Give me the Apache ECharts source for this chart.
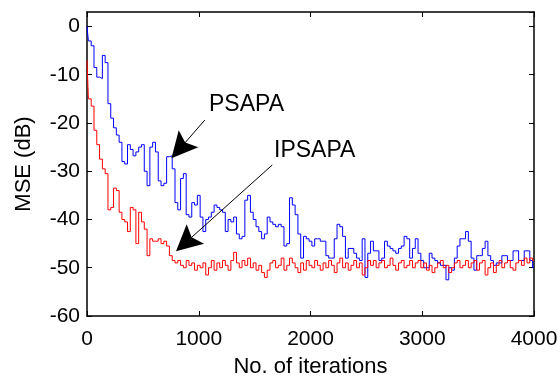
<!DOCTYPE html>
<html>
<head>
<meta charset="utf-8">
<script src="https://cdn.jsdelivr.net/npm/echarts@6/dist/echarts.min.js"></script>
<style>html,body{margin:0;padding:0;background:#fff}#c{width:560px;height:376px}</style>
</head>
<body>
<div id="c"></div>
<script>
var iterStep = 25;
var psapa = [0,-3,-4,-8.5,-10.5,-10.8,-6,-7.5,-16,-19,-21,-22.5,-24,-28,-28.5,-24.5,-25.5,-26.8,-26,-25,
-24.5,-30,-33,-25,-24,-26,-32,-33,-32.5,-27,-26.8,-29.5,-36.5,-38,-31.5,-30.5,-39,-39.5,-36.5,-37,
-35,-39.5,-42.5,-40,-39.5,-38.5,-37,-37.5,-38,-38.5,-42.5,-40,-40.5,-39.5,-43,-44,-43.5,-36,-35,-38.5,
-40,-41.5,-42.5,-44,-43,-39.5,-40.5,-41,-41.5,-41,-41.5,-45.5,-45,-35.5,-37,-39,-43,-48,-43.5,-44,
-44.5,-45.5,-44,-44,-44.5,-44.5,-47.5,-48,-48,-44,-41,-41.5,-43.5,-48,-46,-46,-47,-48,-48.5,-44,
-52,-47,-44.5,-46.5,-46.5,-48.5,-48,-44.5,-45.5,-46,-46.5,-47,-46,-45.5,-43.5,-44,-48,-46,-44,-47,
-48.5,-50,-50,-47,-48,-48.5,-49,-49.5,-49.5,-52.5,-50,-50.5,-48,-45.5,-44,-44,-42.5,-44.5,-48,-50.5,
-47.5,-47.5,-46,-44.5,-47.5,-48.5,-49.5,-49,-49,-47.5,-47.5,-48.5,-48.5,-46.5,-46.5,-48.5,-48.5,-46.5,-46.5,-48.5,
-50];
var ipsapa = [-7,-15,-16.5,-21.5,-24.5,-27.5,-29.5,-30.5,-38,-37.5,-33.5,-34,-38.5,-40,-40.5,-42.5,-37.5,-38,-45,-38.5,
-40.5,-42,-47.5,-44,-44.5,-44.5,-44,-45,-44.5,-45.5,-47.5,-48.5,-49,-48.5,-49.5,-50,-48.5,-49.5,-49,-50.5,
-49.5,-50,-49,-51.5,-50,-48.5,-50.5,-49,-50,-48.5,-49.5,-50.5,-48.5,-46.8,-49,-50,-48.5,-49.5,-48,-50,
-49,-50.5,-49.5,-51,-52,-50.5,-49,-48.5,-50,-49.5,-48,-50.5,-49.5,-48,-49,-50,-51,-49,-50.5,-48.5,
-49.5,-50,-48.5,-49.5,-50.5,-49,-50,-48.5,-49.5,-51,-49,-48,-50,-49,-50.5,-49.5,-48.5,-50,-49,-51.5,
-50,-48.5,-49.5,-48.5,-50,-49,-48.5,-50,-49.5,-48,-49.5,-50.5,-49,-48.5,-50,-49.5,-48.5,-50,-49,-48.5,
-50,-49,-50.5,-49.5,-51,-50,-49,-48.5,-50,-49.5,-51,-50,-49,-48.5,-50,-49.5,-48.5,-50,-49,-48.5,
-50.5,-49,-48.5,-51.5,-50,-49,-51,-49.5,-48.5,-50,-49,-48.5,-50,-50.5,-49,-48.5,-49.5,-48,-49,-48,
-48.5];
var xTicks = [0, 1000, 2000, 3000, 4000];
var yTicks = [-60, -50, -40, -30, -20, -10, 0];
var psapaArrow = [[1054, -19.4], [832, -25.3]];
var ipsapaArrow = [[1658, -28.7], [883, -44.8]];

function pairs(vals) {
  var out = [];
  for (var i = 0; i < vals.length; i++) out.push([i * iterStep, vals[i]]);
  return out;
}
var FONT = 'Liberation Sans';
var chart = echarts.init(document.getElementById('c'));
var tickStyle = {show: true, inside: true, length: 5, lineStyle: {color: '#000', width: 1}};
var lineStyle = {show: true, onZero: false, lineStyle: {color: '#000', width: 1.5}};
var arrowSym = 'path://M0,-13 L12,13 L0,8 L-12,13 Z';
function arrowLine(a) {
  return {
    silent: true, animation: false,
    symbol: ['none', arrowSym], symbolSize: 26,
    label: {show: false},
    lineStyle: {color: '#000', width: 1, type: 'solid'},
    emphasis: {disabled: true},
    data: [[{coord: a[0]}, {coord: a[1]}]]
  };
}
chart.setOption({
  animation: false,
  grid: {left: 87, right: 26, top: 12, bottom: 60, containLabel: false, outerBoundsMode: 'none'},
  xAxis: [{
    type: 'value', min: 0, max: 4000, interval: 1000, position: 'bottom',
    axisLine: lineStyle, axisTick: tickStyle, splitLine: {show: false},
    axisLabel: {color: '#000', fontSize: 21, fontFamily: FONT, margin: 13,
      formatter: function (v) { return xTicks.indexOf(v) >= 0 ? String(v) : ''; }},
    name: 'No. of iterations', nameLocation: 'middle', nameGap: 40,
    nameTextStyle: {color: '#000', fontSize: 22, fontFamily: FONT}
  }, {
    type: 'value', min: 0, max: 4000, interval: 1000, position: 'top',
    axisLine: lineStyle, axisTick: tickStyle, axisLabel: {show: false}, splitLine: {show: false}
  }],
  yAxis: [{
    type: 'value', min: -60, max: 3, interval: 10, position: 'left',
    axisLine: lineStyle, axisTick: tickStyle, splitLine: {show: false},
    axisLabel: {color: '#000', fontSize: 21, fontFamily: FONT, margin: 7, showMaxLabel: false,
      formatter: function (v) { return yTicks.indexOf(v) >= 0 ? String(v) : ''; }},
    name: 'MSE (dB)', nameLocation: 'middle', nameGap: 52,
    nameTextStyle: {color: '#000', fontSize: 22, fontFamily: FONT}
  }, {
    type: 'value', min: -60, max: 3, interval: 10, position: 'right',
    axisLine: lineStyle, axisTick: tickStyle, axisLabel: {show: false}, splitLine: {show: false}
  }],
  series: [{
    name: 'PSAPA', type: 'line', data: pairs(psapa), step: 'middle',
    symbol: 'none', lineStyle: {color: '#0000ff', width: 1}, itemStyle: {color: '#0000ff'},
    markLine: arrowLine(psapaArrow)
  }, {
    name: 'IPSAPA', type: 'line', data: pairs(ipsapa), step: 'middle',
    symbol: 'none', lineStyle: {color: '#ff0000', width: 1}, itemStyle: {color: '#ff0000'},
    markLine: arrowLine(ipsapaArrow)
  }],
  graphic: [
    {type: 'text', left: 209, top: 93, style: {text: 'PSAPA', fontSize: 23, fontFamily: FONT, fill: '#000'}},
    {type: 'text', left: 274, top: 139, style: {text: 'IPSAPA', fontSize: 23, fontFamily: FONT, fill: '#000'}}
  ]
});
</script>
</body>
</html>
